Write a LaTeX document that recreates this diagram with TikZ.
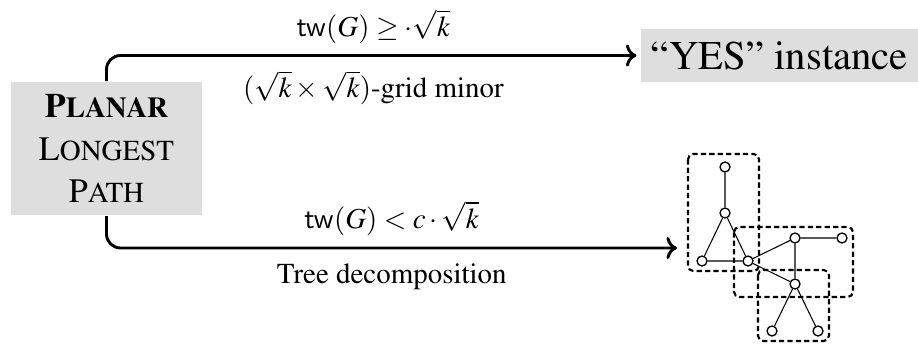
\documentclass[tikz,border=0pt]{standalone}
\usepackage[T1]{fontenc}
\usepackage{amsmath,amssymb}
\usepackage{mathptmx}
\usepackage{tikz}
\usetikzlibrary{arrows.meta,positioning}
\newcommand{\smcap}[2]{#1{\fontsize{11}{16.2}\selectfont #2}}

\begin{document}
\begin{tikzpicture}[x=0.38pt,y=-0.38pt,font=\fontsize{11}{13.2}\selectfont,
  flow/.style={line width=1.1pt,rounded corners=5.3pt},
  gbox/.style={fill=black!13,inner sep=0pt},
  lbl/.style={inner sep=1pt},
  gv/.style={circle,draw,fill=white,inner sep=0pt,minimum size=3.8pt,line width=0.5pt},
  bag/.style={thick,dash pattern=on 2pt off 1.2pt,rounded corners=2pt}]
  \useasboundingbox (0,0) rectangle (918,347);
  \node[gbox,minimum width=72.6pt,minimum height=50.9pt,align=center,font=\fontsize{13}{16.2}\selectfont] (planar) at (106.5,148.5) {\textbf{\smcap{P}{LANAR}}\\\smcap{L}{ONGEST}\\\smcap{P}{ATH}};
  \node[gbox,minimum width=105.3pt,minimum height=20.1pt,font=\fontsize{15.5}{18}\selectfont] (yes) at (779.5,55.5) {``YES'' instance};
  \coordinate (td) at (677,248);
  % the two branches
  \draw[flow,->,shorten >=1.5pt] (planar.north) |- (yes.west)
    node[lbl,pos=0.75,above=3pt] {$\mathsf{tw}(G)\geq\cdot\sqrt{k}$}
    node[lbl,pos=0.75,below=4.3pt] {$(\sqrt{k}\times\sqrt{k})$-grid minor};
  \draw[flow,->] (planar.south) |- (td)
    node[lbl,pos=0.75,above=3.3pt] {$\mathsf{tw}(G)<c\cdot\sqrt{k}$}
    node[lbl,pos=0.75,below=4.3pt] {Tree decomposition};
  % bags
  \draw[bag] (688,154) rectangle (759,271);
  \draw[bag] (734,227) rectangle (853,297);
  \draw[bag] (758,270) rectangle (829,341);
  % graph
  \node[gv] (a) at (725,167) {};
  \node[gv] (b) at (725,213) {};
  \node[gv] (c) at (702,261) {};
  \node[gv] (d) at (748,261) {};
  \node[gv] (e) at (795,238) {};
  \node[gv] (f) at (842,238) {};
  \node[gv] (g) at (795,284) {};
  \node[gv] (h) at (772,331) {};
  \node[gv] (i) at (818,331) {};
  \draw (a)--(b) (b)--(c) (b)--(d) (c)--(d) (d)--(e) (e)--(f) (e)--(g) (d)--(g) (g)--(h) (g)--(i);
\end{tikzpicture}
\end{document}
